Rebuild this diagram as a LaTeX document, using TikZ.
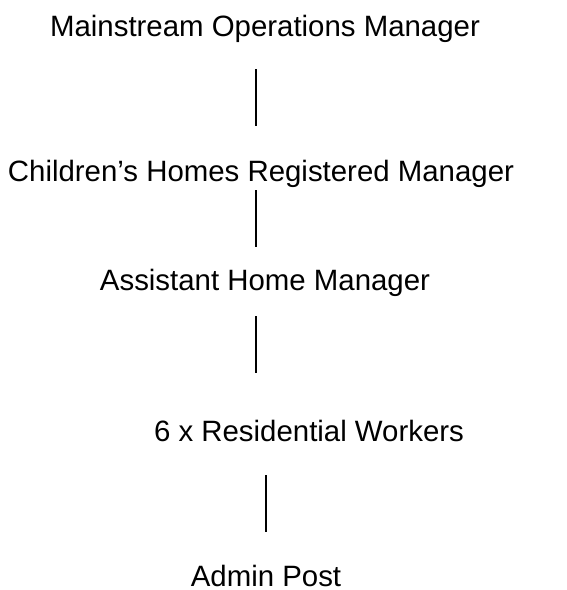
\documentclass[tikz,border=0pt]{standalone}
\usepackage{fontspec}
\setmainfont{Liberation Sans}
\tikzset{
    post/.style={anchor=base,inner sep=0pt,font=\fontsize{29.4}{35}\selectfont},
    link/.style={line width=1.1pt}
}
\begin{document}
\begin{tikzpicture}[x=1pt,y=-1pt]
        \useasboundingbox (0,0) rectangle (567,590);
        % job titles, top to bottom
        \node[post] (ops) at (265,36) {Mainstream Operations Manager};
        \node[post] (reg) at (261,181) {Children’s Homes Registered Manager};
        \node[post] (ahm) at (265,290) {Assistant Home Manager};
        \node[post] (rw) at (309,441) {6 x Residential Workers};
        \node[post] (admin) at (266,586) {Admin Post};
        % line ends
        \coordinate (a1) at (256,69);  \coordinate (b1) at (256,126);
        \coordinate (a2) at (256,190); \coordinate (b2) at (256,247);
        \coordinate (a3) at (256,316); \coordinate (b3) at (256,373);
        \coordinate (a4) at (266,475); \coordinate (b4) at (266,532);
        \foreach \i in {1,...,4}
            \draw[link] (a\i) -- (b\i);
    \end{tikzpicture}
\end{document}
